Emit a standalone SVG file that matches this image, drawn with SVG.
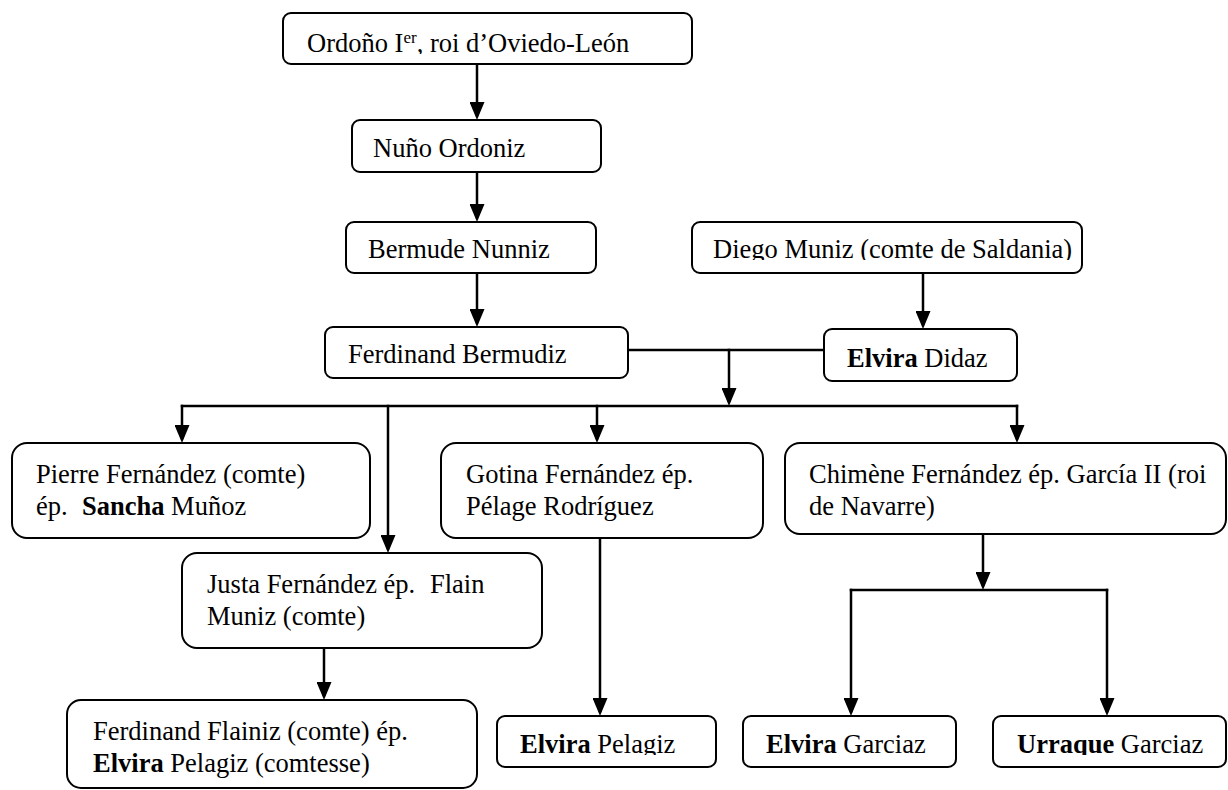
<svg xmlns="http://www.w3.org/2000/svg" width="1228" height="790" viewBox="0 0 1228 790">
<style>
.box{fill:#fff;stroke:#000;stroke-width:2}
.t{font-family:"Liberation Serif","Times New Roman",serif;font-size:26.5px;fill:#000}
.b{font-weight:bold}
.c{fill:none;stroke:#000;stroke-width:2.5;stroke-linecap:square}
.a{marker-end:url(#arr)}
</style>
<defs>
<marker id="arr" markerUnits="userSpaceOnUse" markerWidth="18" markerHeight="15" refX="13" refY="7.5" orient="auto">
<path d="M0,0 L18,7.5 L0,15 z" fill="#000"/>
</marker>
<clipPath id="clipOrd"><rect x="283" y="13" width="409" height="41"/></clipPath>
<clipPath id="clipDiego"><rect x="692" y="222" width="390" height="38"/></clipPath>
<clipPath id="clipBottom"><rect x="490" y="716" width="738" height="39"/></clipPath>
</defs>

<g id="connectors">
<path class="c a" d="M477,64 V115"/>
<path class="c a" d="M477,172 V217"/>
<path class="c a" d="M477,273 V322"/>
<path class="c a" d="M923,273 V324"/>
<path class="c" d="M628,350 H824"/>
<path class="c a" d="M729,350 V401"/>
<path class="c" d="M182,406 H1017"/>
<path class="c a" d="M182,406 V438"/>
<path class="c a" d="M388,406 V548"/>
<path class="c a" d="M597,406 V438"/>
<path class="c a" d="M1017,406 V438"/>
<path class="c a" d="M324,648 V695"/>
<path class="c a" d="M600,538 V711"/>
<path class="c a" d="M983,534 V585"/>
<path class="c" d="M851,590 H1107"/>
<path class="c a" d="M851,590 V711"/>
<path class="c a" d="M1107,590 V711"/>
</g>

<g id="ordono">
<rect class="box" x="283" y="13" width="409" height="51" rx="8"/>
<text class="t" x="307" y="52" clip-path="url(#clipOrd)">Ordoño I<tspan font-size="17" dy="-9">er</tspan><tspan dy="9">, roi d’Oviedo-León</tspan></text>
</g>

<g id="nuno">
<rect class="box" x="352" y="120" width="249" height="52" rx="8"/>
<text class="t" x="373" y="157">Nuño Ordoniz</text>
</g>

<g id="bermude">
<rect class="box" x="346" y="222" width="250" height="51" rx="8"/>
<text class="t" x="368" y="258">Bermude Nunniz</text>
</g>

<g id="diego">
<rect class="box" x="692" y="222" width="390" height="51" rx="8"/>
<text class="t" x="713" y="258" clip-path="url(#clipDiego)">Diego Muniz (comte de Saldania)</text>
</g>

<g id="ferdinand-bermudiz">
<rect class="box" x="325" y="327" width="303" height="51" rx="8"/>
<text class="t" x="348" y="363">Ferdinand Bermudiz</text>
</g>

<g id="elvira-didaz">
<rect class="box" x="824" y="329" width="193" height="52" rx="8"/>
<text class="t" x="847" y="367"><tspan class="b">Elvira</tspan> Didaz</text>
</g>

<g id="pierre">
<rect class="box" x="12" y="443" width="358" height="95" rx="15"/>
<text class="t" x="36" y="483">Pierre Fernández (comte)</text>
<text class="t" y="515"><tspan x="36">ép.</tspan><tspan x="82" class="b">Sancha</tspan> Muñoz</text>
</g>

<g id="gotina">
<rect class="box" x="441" y="443" width="322" height="95" rx="15"/>
<text class="t" x="466" y="483">Gotina Fernández ép.</text>
<text class="t" x="466" y="515">Pélage Rodríguez</text>
</g>

<g id="chimene">
<rect class="box" x="785" y="443" width="441" height="91" rx="15"/>
<text class="t" x="809" y="483">Chimène Fernández ép. García II (roi</text>
<text class="t" x="809" y="515">de Navarre)</text>
</g>

<g id="justa">
<rect class="box" x="182" y="553" width="360" height="95" rx="15"/>
<text class="t" y="593"><tspan x="207">Justa Fernández ép.</tspan><tspan x="430">Flain</tspan></text>
<text class="t" x="207" y="625">Muniz (comte)</text>
</g>

<g id="ferdinand-flainiz">
<rect class="box" x="67" y="700" width="410" height="88" rx="14"/>
<text class="t" x="93" y="740">Ferdinand Flainiz (comte) ép.</text>
<text class="t" x="93" y="772"><tspan class="b">Elvira</tspan> Pelagiz (comtesse)</text>
</g>

<g id="elvira-pelagiz">
<rect class="box" x="497" y="716" width="219" height="51" rx="8"/>
<text class="t" x="520" y="753" clip-path="url(#clipBottom)"><tspan class="b">Elvira</tspan> Pelagiz</text>
</g>

<g id="elvira-garciaz">
<rect class="box" x="743" y="716" width="213" height="51" rx="8"/>
<text class="t" x="766" y="753" clip-path="url(#clipBottom)"><tspan class="b">Elvira</tspan> Garciaz</text>
</g>

<g id="urraque-garciaz">
<rect class="box" x="993" y="716" width="233" height="51" rx="8"/>
<text class="t" x="1017" y="753" clip-path="url(#clipBottom)"><tspan class="b">Urraque</tspan> Garciaz</text>
</g>
</svg>
